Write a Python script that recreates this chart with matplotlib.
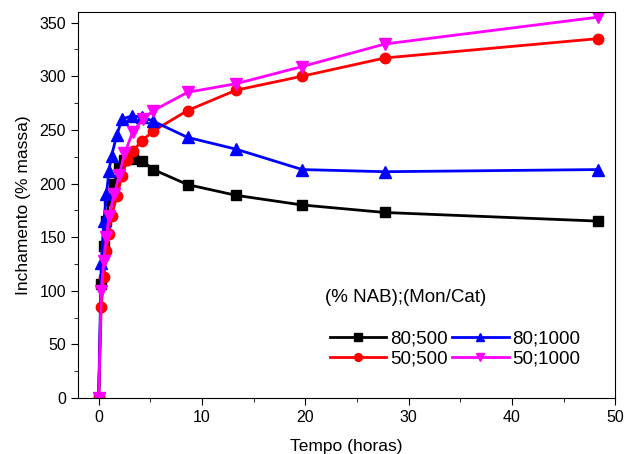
import numpy as np
import matplotlib.pyplot as plt
from matplotlib.ticker import MultipleLocator

plt.rcParams['font.family'] = ['Liberation Sans', 'DejaVu Sans']

# 80;500
t_80_500 = [0, 0.25, 0.5, 0.75, 1.0, 1.5, 2.0, 2.5, 3.3, 4.2, 5.3, 8.6, 13.3, 19.7, 27.7, 48.3]
v_80_500 = [0, 106, 142, 165, 185, 200, 215, 222, 223, 221, 213, 199, 189, 180, 173, 165]

# 80;1000
t_80_1000 = [0, 0.25, 0.5, 0.75, 1.0, 1.25, 1.75, 2.25, 3.2, 4.2, 5.3, 8.6, 13.3, 19.7, 27.7, 48.3]
v_80_1000 = [0, 126, 165, 190, 212, 226, 245, 260, 263, 262, 258, 243, 232, 213, 211, 213]

# 50;500
t_50_500 = [0, 0.25, 0.5, 0.75, 1.0, 1.25, 1.75, 2.25, 2.75, 3.3, 4.2, 5.3, 8.6, 13.3, 19.7, 27.7, 48.3]
v_50_500 = [0, 85, 113, 137, 153, 170, 188, 207, 222, 230, 240, 249, 268, 287, 300, 317, 335]

# 50;1000
t_50_1000 = [0, 0.25, 0.5, 0.75, 1.0, 1.5, 2.0, 2.5, 3.3, 4.3, 5.3, 8.6, 13.3, 19.7, 27.7, 48.3]
v_50_1000 = [0, 100, 128, 150, 170, 190, 208, 228, 248, 260, 268, 285, 293, 309, 330, 355]

fig = plt.figure(figsize=(6.24, 4.54), dpi=100)
ax = fig.add_axes([0.125, 0.123, 0.861, 0.851])

ax.plot(t_80_500, v_80_500, color='black', marker='s', ms=7, lw=2, label='80;500')
ax.plot(t_50_500, v_50_500, color='red', marker='o', ms=7.5, lw=2, label='50;500')
ax.plot(t_80_1000, v_80_1000, color='blue', marker='^', ms=8, lw=2, label='80;1000')
ax.plot(t_50_1000, v_50_1000, color='magenta', marker='v', ms=8, lw=2, label='50;1000')

ax.set_xlim(-2, 50)
ax.set_ylim(0, 360)
ax.xaxis.set_major_locator(MultipleLocator(10))
ax.xaxis.set_minor_locator(MultipleLocator(5))
ax.yaxis.set_major_locator(MultipleLocator(50))
ax.yaxis.set_minor_locator(MultipleLocator(25))
ax.tick_params(which='major', length=5, labelsize=11.5)
ax.tick_params(which='minor', length=3)
ax.set_xlabel('Tempo (horas)', fontsize=12.5, labelpad=10)
ax.set_ylabel('Inchamento (% massa)', fontsize=12.5, labelpad=6)

ax.text(0.46, 0.26, '(% NAB);(Mon/Cat)', transform=ax.transAxes, fontsize=13.5,
        ha='left', va='center')
ax.legend(ncol=2, frameon=False, loc='upper left', bbox_to_anchor=(0.469, 0.175),
          borderaxespad=0, borderpad=0, fontsize=13.5, markerscale=0.75,
          handlelength=3.0, columnspacing=0.25, handletextpad=0.2, labelspacing=0.15)

fig.savefig('out.png', dpi=100)
